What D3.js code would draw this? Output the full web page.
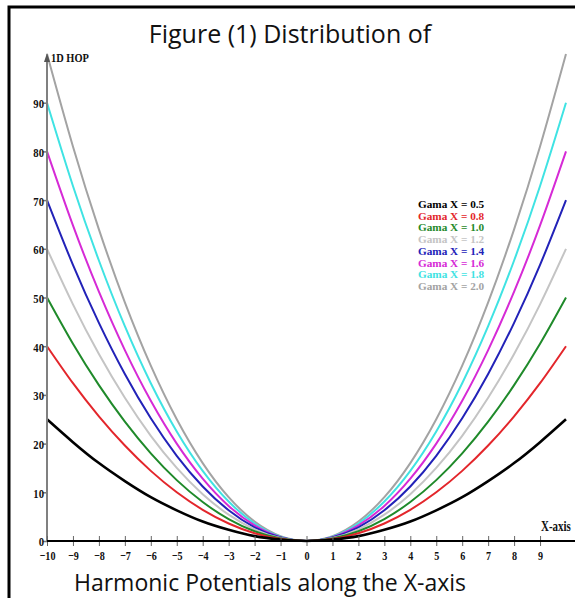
<!DOCTYPE html>
<html>
<head>
<meta charset="utf-8">
<script src="https://cdn.jsdelivr.net/npm/d3@7"></script>
<style>
  body { margin: 0; background: #fff; }
  svg { display: block; }
</style>
</head>
<body>
<svg id="chart" width="575" height="598"></svg>
<script>
// x positions and potential values
const xValues = [-10, -9, -8, -7, -6, -5, -4, -3, -2, -1, 0, 1, 2, 3, 4, 5, 6, 7, 8, 9, 10];
const gama05 = [25, 20.3, 16, 12.3, 9, 6.3, 4, 2.3, 1, 0.3, 0, 0.3, 1, 2.3, 4, 6.3, 9, 12.3, 16, 20.3, 25];
const gama08 = [40, 32.4, 25.6, 19.6, 14.4, 10, 6.4, 3.6, 1.6, 0.4, 0, 0.4, 1.6, 3.6, 6.4, 10, 14.4, 19.6, 25.6, 32.4, 40];
const gama10 = [50, 40.5, 32, 24.5, 18, 12.5, 8, 4.5, 2, 0.5, 0, 0.5, 2, 4.5, 8, 12.5, 18, 24.5, 32, 40.5, 50];
const gama12 = [60, 48.6, 38.4, 29.4, 21.6, 15, 9.6, 5.4, 2.4, 0.6, 0, 0.6, 2.4, 5.4, 9.6, 15, 21.6, 29.4, 38.4, 48.6, 60];
const gama14 = [70, 56.7, 44.8, 34.3, 25.2, 17.5, 11.2, 6.3, 2.8, 0.7, 0, 0.7, 2.8, 6.3, 11.2, 17.5, 25.2, 34.3, 44.8, 56.7, 70];
const gama16 = [80, 64.8, 51.2, 39.2, 28.8, 20, 12.8, 7.2, 3.2, 0.8, 0, 0.8, 3.2, 7.2, 12.8, 20, 28.8, 39.2, 51.2, 64.8, 80];
const gama18 = [90, 72.9, 57.6, 44.1, 32.4, 22.5, 14.4, 8.1, 3.6, 0.9, 0, 0.9, 3.6, 8.1, 14.4, 22.5, 32.4, 44.1, 57.6, 72.9, 90];
const gama20 = [100, 81, 64, 49, 36, 25, 16, 9, 4, 1, 0, 1, 4, 9, 16, 25, 36, 49, 64, 81, 100];

const seriesNames = ['Gama X = 0.5', 'Gama X = 0.8', 'Gama X = 1.0', 'Gama X = 1.2',
  'Gama X = 1.4', 'Gama X = 1.6', 'Gama X = 1.8', 'Gama X = 2.0'];
const seriesColors = ['#000000', '#e3262b', '#1f8a2a', '#c4c4c4',
  '#2222b8', '#d62ad6', '#3fe3e3', '#a3a3a3'];
const xTickValues = [-10, -9, -8, -7, -6, -5, -4, -3, -2, -1, 0, 1, 2, 3, 4, 5, 6, 7, 8, 9];
const yTickValues = [0, 10, 20, 30, 40, 50, 60, 70, 80, 90];

const series = [gama05, gama08, gama10, gama12, gama14, gama16, gama18, gama20]
  .map((vals, i) => ({
    name: seriesNames[i],
    color: seriesColors[i],
    points: vals.map((v, j) => ({ x: xValues[j], v: v }))
  }));

const svg = d3.select('#chart');

// outer frame
svg.append('rect')
  .attr('x', 9).attr('y', 7)
  .attr('width', 620).attr('height', 640)
  .attr('fill', 'none')
  .attr('stroke', '#000').attr('stroke-width', 3);

const x = d3.scaleLinear().domain([-10, 10]).range([47, 566]);
const y = d3.scaleLinear().domain([0, 100]).range([541, 54]);

const serif = '"Liberation Serif", "Times New Roman", serif';

// curves
const line = d3.line()
  .x(d => x(d.x))
  .y(d => y(d.v))
  .curve(d3.curveNatural);

svg.append('g')
  .selectAll('path')
  .data(series.slice().reverse())
  .enter()
  .append('path')
  .attr('d', d => line(d.points))
  .attr('fill', 'none')
  .attr('stroke', d => d.color)
  .attr('stroke-width', d => d.color === '#000000' ? 2.6 : 2);

// y axis
const yAxis = svg.append('g')
  .attr('transform', 'translate(' + x(-10) + ',0)')
  .call(d3.axisLeft(y).tickValues(yTickValues).tickSize(4).tickSizeOuter(0));
yAxis.select('.domain').remove();
yAxis.selectAll('.tick line').attr('stroke', '#777').attr('stroke-width', 1.5);
yAxis.selectAll('.tick text')
  .attr('x', null).attr('dy', null)
  .attr('text-anchor', 'end')
  .attr('font-family', serif).attr('font-weight', 'bold').attr('font-size', '13px')
  .attr('fill', '#111')
  .attr('transform', d => d === 0 ? 'translate(-3,4) scale(0.82,1)' : 'translate(-3,5) scale(0.82,1)');

svg.append('line')
  .attr('x1', x(-10)).attr('x2', x(-10))
  .attr('y1', y(0)).attr('y2', 58)
  .attr('stroke', '#808080').attr('stroke-width', 2);
svg.append('path')
  .attr('d', `M${x(-10) - 3},${62} L${x(-10)},${53} L${x(-10) + 3},${62} Z`)
  .attr('fill', '#555');

svg.append('text')
  .attr('transform', `translate(${x(-10) + 4},62) scale(0.8,1)`)
  .attr('font-family', serif).attr('font-weight', 'bold').attr('font-size', '13px')
  .attr('fill', '#111')
  .text('1D HOP');

// x axis
const xAxis = svg.append('g')
  .attr('transform', 'translate(0,' + y(0) + ')')
  .call(d3.axisBottom(x).tickValues(xTickValues).tickSize(5).tickSizeOuter(0));
xAxis.select('.domain').remove();
xAxis.selectAll('.tick line').attr('y1', -5).attr('stroke', '#666');
xAxis.selectAll('.tick text')
  .attr('y', null).attr('dy', null)
  .attr('font-family', serif).attr('font-weight', 'bold').attr('font-size', '13px')
  .attr('fill', '#111')
  .attr('transform', 'translate(0,18.5) scale(0.78,1)');

svg.append('line')
  .attr('x1', x(-10)).attr('x2', 575)
  .attr('y1', y(0)).attr('y2', y(0))
  .attr('stroke', '#000').attr('stroke-width', 2);

svg.append('text')
  .attr('transform', `translate(541,531) scale(0.78,1)`)
  .attr('font-family', serif).attr('font-weight', 'bold').attr('font-size', '14px')
  .attr('fill', '#111')
  .text('X-axis');

// legend
const legend = svg.append('g');
legend.selectAll('text')
  .data(series)
  .enter()
  .append('text')
  .attr('transform', (d, i) => `translate(418,${208 + i * 11.7}) scale(1.08,1)`)
  .attr('font-family', serif).attr('font-weight', 'bold').attr('font-size', '10.4px')
  .attr('fill', d => d.color)
  .text(d => d.name);

// title and caption
svg.append('text')
  .attr('x', 290).attr('y', 43)
  .attr('text-anchor', 'middle')
  .attr('font-family', '"Open Sans", sans-serif').attr('font-size', '25px')
  .attr('fill', '#111')
  .text('Figure (1) Distribution of');

svg.append('text')
  .attr('x', 270).attr('y', 591)
  .attr('text-anchor', 'middle')
  .attr('font-family', '"Open Sans", sans-serif').attr('font-size', '23px')
  .attr('fill', '#111')
  .text('Harmonic Potentials along the X-axis');
</script>
</body>
</html>
